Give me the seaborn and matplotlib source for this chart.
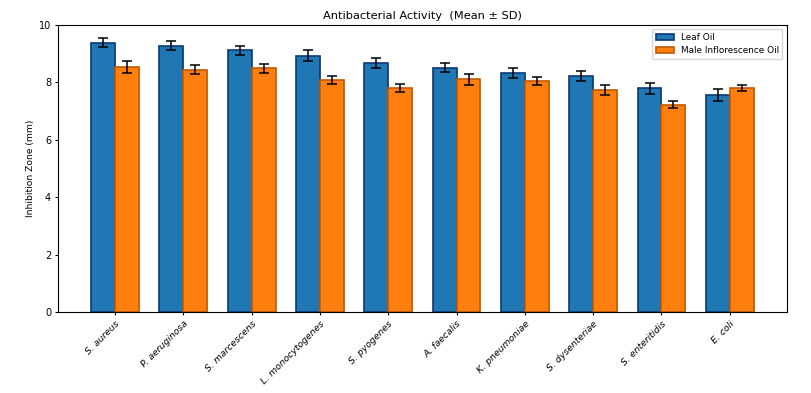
"""
Antibacterial activity of leaf oil vs male inflorescence oil (mean ± SD).
Writes out.png.
"""
import matplotlib
matplotlib.use("Agg")
import matplotlib.pyplot as plt
import matplotlib.patheffects as pe
import numpy as np
import pandas as pd
import seaborn as sns

bacteria = [
    "S. aureus", "P. aeruginosa", "S. marcescens", "L. monocytogenes",
    "S. pyogenes", "A. faecalis", "K. pneumoniae", "S. dysenteriae",
    "S. enteritidis", "E. coli",
]
leaf_mean = [9.37, 9.27, 9.11, 8.92, 8.67, 8.51, 8.33, 8.22, 7.79, 7.57]
leaf_sd = [0.16, 0.16, 0.16, 0.19, 0.17, 0.15, 0.18, 0.18, 0.19, 0.21]
male_mean = [8.54, 8.44, 8.48, 8.09, 7.80, 8.10, 8.04, 7.73, 7.22, 7.80]
male_sd = [0.20, 0.16, 0.16, 0.14, 0.13, 0.19, 0.15, 0.16, 0.13, 0.12]

series = ["Leaf Oil", "Male Inflorescence Oil"]
colors = ["#1f77b4", "#ff7f0e"]
edges = ["#0a3a75", "#c25a00"]


def main() -> None:
    df = pd.DataFrame({
        "bacterium": bacteria * 2,
        "oil": [series[0]] * len(bacteria) + [series[1]] * len(bacteria),
        "mean": leaf_mean + male_mean,
        "sd": leaf_sd + male_sd,
    })

    fig, ax = plt.subplots(figsize=(8.12, 3.93), dpi=100)
    sns.barplot(
        data=df, x="bacterium", y="mean", hue="oil",
        palette=colors, errorbar=None, width=0.7,
        saturation=1, ax=ax,
    )

    # error bars placed on the bar centres seaborn produced
    sds = [leaf_sd, male_sd]
    bar_containers = list(ax.containers)
    for k, cont in enumerate(bar_containers):
        xs = [p.get_x() + p.get_width() / 2 for p in cont.patches]
        hs = [p.get_height() for p in cont.patches]
        for p in cont.patches:
            p.set_edgecolor(edges[k])
            p.set_linewidth(1.2)
            p.set_path_effects([
                pe.SimplePatchShadow(offset=(0.6, -0.6), alpha=0.25),
                pe.Normal(),
            ])
        ax.errorbar(xs, hs, yerr=sds[k], fmt="none", ecolor="black",
                    elinewidth=1.1, capsize=3.5, capthick=1.1, zorder=5)

    ax.set_ylim(0, 10)
    ax.set_xlabel("")
    ax.set_ylabel("Inhibition Zone (mm)", fontsize=6.6, labelpad=3)
    ax.set_title("Antibacterial Activity  (Mean \u00b1 SD)", fontsize=8.2,
                 pad=4)
    ax.tick_params(axis="y", labelsize=7, length=2.5, pad=2.5)
    ax.tick_params(axis="x", labelsize=6.7, length=2.5, pad=2.5)
    plt.setp(ax.get_xticklabels(), rotation=45, ha="right",
             rotation_mode="anchor", style="italic")

    handles, labels = ax.get_legend_handles_labels()
    for h, ec in zip(handles, edges):
        h.set_edgecolor(ec)
        h.set_linewidth(1.2)
    ax.legend(handles, labels, loc="upper right", fontsize=6.4)

    fig.subplots_adjust(left=0.0714, right=0.969, top=0.937, bottom=0.205)
    fig.savefig("out.png", dpi=100)
    plt.close(fig)


if __name__ == "__main__":
    main()
